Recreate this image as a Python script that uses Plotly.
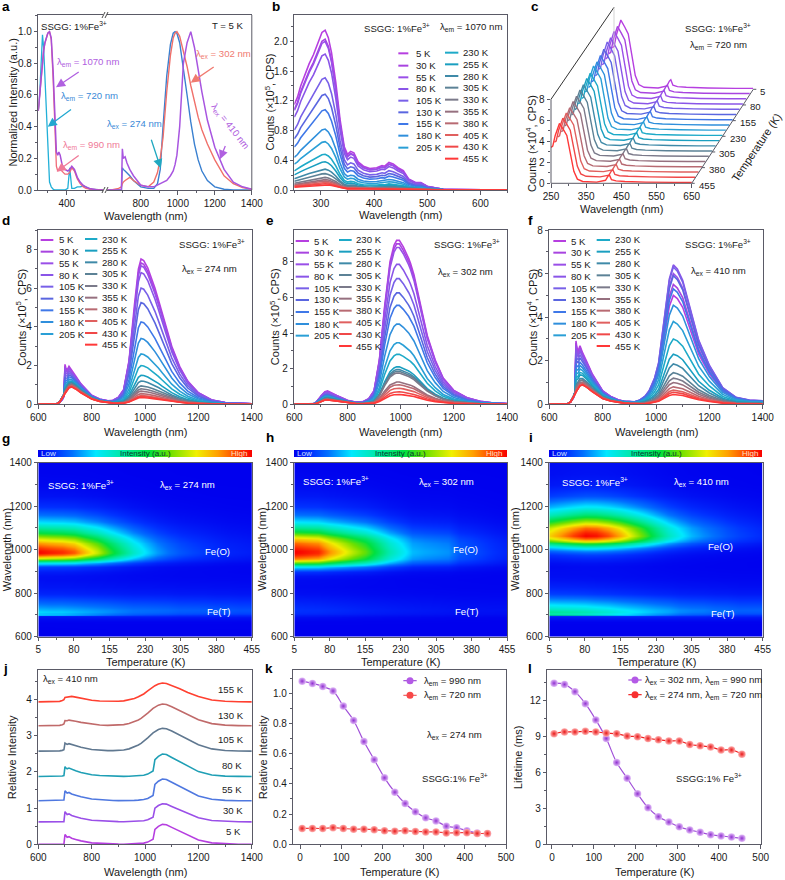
import plotly.graph_objects as go

W, H = 785, 880
FONT = "Liberation Sans"
INK = "#1a1a1a"
AXC = "#5a5a66"

temps = [5,30,55,80,105,130,155,180,205,230,255,280,305,330,355,380,405,430,455]
colors = ["#b63fe0","#a844e0","#9a4fe8","#8a55e8","#7860e8","#5a66e0","#3f78e8","#2f8fdc","#2a9fd6",
          "#1eaac8","#1a9fc0","#3f8aa8","#5c8296","#7b7a8a","#96707f","#b86a72","#e0605f","#f04848","#ff3838"]

# ---- panel a ----
a_ex_wl = [250,258,265,272,278,285,292,300,309,318,328,338,345,352,358,365,375,390,405,415,426,440,455,470,485,500,520,560,590]
a_ex_1070 = [.5,.6,.72,.82,.88,.93,.96,.99,1,.96,.75,.4,.24,.22,.24,.22,.16,.13,.12,.13,.15,.13,.08,.05,.03,.02,.01,0,0]
a_ex_990 = [.5,.6,.72,.82,.88,.93,.96,.99,1,.95,.7,.3,.15,.12,.13,.13,.12,.1,.1,.11,.14,.12,.07,.04,.02,.01,.005,0,0]
a_ex_720 = [.5,.62,.8,.98,.9,.7,.45,.2,.05,.02,.005,0,0,0,0,0,0,0,.01,.14,.01,.01,.02,.02,.025,.02,.005,0,0]
a_em_wl = [620,640,680,695,700,705,715,725,740,760,800,840,870,890,905,920,940,960,975,985,995,1010,1030,1050,1070,1090,1110,1130,1160,1200,1250,1300,1350,1400]
a_em_274 = [0,0,0,0,.14,.13,.12,.11,.09,.06,.02,.01,.01,.04,.13,.4,.72,.92,.99,1,.99,.93,.78,.6,.43,.29,.19,.12,.06,.02,.005,0,0,0]
a_em_302 = [0,0,.01,.02,.04,.05,.06,.07,.08,.06,.03,.02,.05,.11,.2,.33,.62,.85,.96,.99,1,.97,.88,.78,.66,.55,.46,.38,.29,.19,.09,.04,.015,.005]
a_em_410 = [0,0,0,0,.26,.2,.21,.17,.13,.09,.03,.02,.02,.03,.04,.05,.06,.09,.12,.16,.22,.4,.8,.93,1,.9,.76,.62,.44,.27,.13,.05,.02,.005]

# ---- panel b ----
b_wl = [250,256,262,270,278,286,294,302,308,314,320,328,336,344,350,356,362,370,380,392,405,415,420,428,436,445,455,465,478,488,500,515,530,560,600,650]
b_shape = [1.15,1.25,1.4,1.55,1.7,1.82,1.98,2.12,2.15,2.05,1.85,1.45,.95,.58,.48,.52,.5,.38,.32,.29,.3,.33,.32,.37,.35,.3,.26,.15,.1,.1,.05,.03,.01,.005,0,0]
b_peak = [2.15,2.03,2.0,1.83,1.51,1.29,1.08,.82,.65,.48,.38,.28,.22,.17,.14,.12,.10,.085,.07]

# ---- panel c ----
c_wl = [250,255,262,274,285,295,305,315,325,340,380,405,412,416,422,435,460,490,520,600,650]
c_shape = [.6,.62,.8,1,.9,.8,.5,.2,.07,.03,.02,.05,.12,.14,.06,.04,.03,.03,.02,.015,.015]
c_peak = [6.6,6.5,6.5,6.4,6.5,6.3,6.2,6.1,6.2,6.0,6.0,5.9,5.9,5.8,5.8,5.7,5.7,5.7,5.7]
depth_ticks = [5,80,155,230,305,380,455]

# ---- emission spectra d, e, f, g, h, i, j ----
wl_em = [600,650,670,680,690,696,700,703,708,715,725,740,760,800,830,860,880,900,920,940,960,975,985,995,1010,1030,1037,1050,1065,1080,1100,1130,1160,1200,1250,1300,1350,1400]
t_cold = [0,0,0,0,0,.02,1,.85,.72,.78,.62,.5,.35,.15,.09,.05,.03,.02,0,0]+[0]*18
t_hot = [0,.01,.03,.12,.32,.5,.62,.7,.82,.95,1,.88,.66,.3,.17,.09,.06,.04,.02,.01]+[0]*18
o_274 = [0]*15+[.005,.015,.04,.1,.3,.68,.93,1,.99,.94,.84,.80,.72,.62,.52,.4,.26,.16,.08,.03,.012,.006,.004]
o_302 = [0]*15+[.01,.03,.08,.27,.6,.87,.97,1,1,.96,.89,.86,.79,.68,.56,.42,.27,.16,.085,.04,.018,.008,.004]
o_410 = [0]*16+[.003,.008,.015,.03,.06,.1,.14,.19,.3,.6,.72,.9,1,.97,.89,.68,.46,.28,.12,.05,.03,.025]
o_j_cold = [0]*18+[.005,.01,.02,.03,.04,.06,.11,.25,.75,.9,1,.98,.85,.65,.45,.22,.07,.02,.005,0]
o_j_warm = [0]*16+[.01,.02,.05,.1,.18,.27,.34,.42,.58,.8,.86,.95,1,.98,.88,.7,.5,.28,.1,.03,.01,0]

d_peak = [7.5,7.3,7.15,6.8,6.0,5.25,4.25,3.4,2.6,2.0,1.5,1.2,.95,.8,.68,.55,.45,.4,.35]
d_cold = [1.6,1.5,1.4,1.2,1.0,.8,.6,.45,.32,.2,.15,.1,.06,.04,.02,0,0,0,0]
d_hot = [.75,.75,.8,.85,.9,.95,1,1,1,1.05,1.05,1.05,1,1,1,.95,.95,.9,.9]
e_peak = [9.2,9.0,8.8,7.85,7.05,6.25,5.55,4.5,3.45,2.8,2.1,1.95,1.85,1.75,1.25,1.1,.9,.7,.55]
e_cold = [0]*19
e_hot = [.75,.72,.7,.65,.6,.55,.5,.47,.43,.4,.38,.35,.33,.3,.28,.27,.26,.25,.25]
f_peak = [5.0,5.5,6.0,6.4,6.3,5.9,5.3,4.55,3.8,3.0,2.3,1.85,1.45,1.2,1.0,.8,.65,.55,.45]
f_cold = [2.35,2.25,2.1,1.9,1.7,1.45,1.2,1.0,.8,.6,.45,.3,.2,.15,.1,.05,0,0,0]
f_hot = [.9,.9,.95,1,1,1.05,1.05,1.05,1.05,1.05,1.05,1,1,1,.95,.95,.9,.9,.9]

j_temps = ["5 K","30 K","55 K","80 K","105 K","130 K","155 K"]
j_colors = ["#b63fe0","#9a4fe8","#4f78e0","#1f9fb5","#607890","#c06a6a","#ff4030"]
j_base = [0,.62,1.2,1.87,2.57,3.27,3.93]
j_ocold = [.55,.5,.6,.62,0,0,0]
j_owarm = [0,0,0,0,.63,.6,.52]
j_tcold = [.27,.28,.26,.25,.18,.08,.05]
j_thot = [0,0,.03,.04,.07,.1,.12]

# ---- panels k, l ----
k_990 = [1.08,1.065,1.045,1.015,.915,.82,.68,.56,.44,.345,.27,.215,.175,.155,.12,.11,.09,.075,.07]
k_720 = [.105,.105,.105,.11,.105,.1,.1,.097,.09,.087,.09,.085,.082,.082,.075,.077,.077,.072,.072]
l_990 = [13.4,13.3,12.7,11.7,10.35,8.8,6.8,5.5,4.2,3.05,2.3,1.85,1.45,1.2,1.0,.8,.7,.6,.5]
l_720 = [9.2,9.35,9.35,9.4,9.35,9.25,9.2,9.0,8.95,8.8,8.7,8.6,8.6,8.3,8.2,8.1,7.85,7.85,7.5]

jet = [[0,"#0000ee"],[.08,"#0030ff"],[.16,"#0070ff"],[.27,"#00e8ff"],[.4,"#00e8a0"],[.52,"#00e040"],
       [.62,"#70e000"],[.74,"#f0f000"],[.84,"#ffa000"],[.93,"#ff4000"],[1,"#f80000"]]

fig = go.Figure()
annos, shapes = [], []
lay = {}
TXT = 9.6
TICK = 10
TITLE = 11
TITLE_Y = {2: 215, 4: 431.7, 5: 431.7, 6: 431.7, 7: 661.5, 8: 661.5, 9: 661.5, 10: 871.7, 11: 871.7, 12: 871.7}

def fx(p): return p / W
def fy(p): return 1 - p / H

def text(x, y, s, size=TXT, color=INK, anchor="center", angle=0, bold=False):
    annos.append(dict(x=fx(x), y=fy(y), xref="paper", yref="paper", text=f"<b>{s}</b>" if bold else s,
                      showarrow=False, xanchor=anchor, yanchor="middle", textangle=angle,
                      font=dict(family=FONT, size=size, color=color)))

def seg(x0, y0, x1, y1, color=AXC, width=1):
    shapes.append(dict(type="line", xref="paper", yref="paper", x0=fx(x0), y0=fy(y0), x1=fx(x1), y1=fy(y1),
                       line=dict(color=color, width=width), layer="above"))

def arrow(x0, y0, x1, y1, color):
    annos.append(dict(x=fx(x1), y=fy(y1), xref="paper", yref="paper", ax=x0-x1, ay=y0-y1, axref="pixel", ayref="pixel",
                      text=" ", showarrow=True, arrowhead=2, arrowsize=1.4, arrowwidth=1.3, arrowcolor=color))

def xaxis(n, x0, x1, rng, title, dtick, minor, tick0=None, mirror=True):
    d = dict(domain=[fx(x0), fx(x1)], range=rng, anchor=f"y{n}", showgrid=False, zeroline=False, showline=True,
             linecolor=AXC, linewidth=1, mirror=mirror, ticks="outside", ticklen=3.5, tickcolor=AXC, tickwidth=1,
             tickfont=dict(family=FONT, size=TICK, color=INK), dtick=dtick,
             minor=dict(ticks="outside", ticklen=2, tickcolor=AXC, dtick=minor, showgrid=False))
    if tick0 is not None:
        d["tick0"] = tick0
        d["minor"]["tick0"] = tick0
    if title:
        text((x0 + x1) / 2, TITLE_Y[n], title, size=TITLE)
    lay[f"xaxis{n}"] = d

def yaxis(n, y0, y1, rng, title, title_x, dtick, minor, fmt=None, mirror=True):
    d = dict(domain=[fy(y1), fy(y0)], range=rng, anchor=f"x{n}", showgrid=False, zeroline=False, showline=True,
             linecolor=AXC, linewidth=1, mirror=mirror, ticks="outside", ticklen=3.5, tickcolor=AXC, tickwidth=1,
             tickfont=dict(family=FONT, size=TICK, color=INK), dtick=dtick,
             minor=dict(ticks="outside", ticklen=2, tickcolor=AXC, dtick=minor, showgrid=False))
    if fmt: d["tickformat"] = fmt
    lay[f"yaxis{n}"] = d
    text(title_x, (y0 + y1) / 2, title, size=TITLE, angle=-90)

def line(x, y, n, color, width=1.6, xa=None):
    fig.add_trace(go.Scatter(x=x, y=y, mode="lines", line=dict(color=color, width=width),
                             xaxis=xa or f"x{n}", yaxis=f"y{n}", showlegend=False))

def legend19(ox, oy, c1, c2, ys1, ys2):
    for i in range(9):
        y = oy + ys1[i] / 3
        seg(ox + c1[0]/3, y, ox + c1[1]/3, y, colors[i], 2)
        text(ox + c1[2]/3, y, f"{temps[i]} K", anchor="left")
    for i in range(10):
        y = oy + ys2[i] / 3
        seg(ox + c2[0]/3, y, ox + c2[1]/3, y, colors[i+9], 2)
        text(ox + c2[2]/3, y, f"{temps[i+9]} K", anchor="left")

FE = "SSGG: 1%Fe<sup>3+</sup>"

# ===== a =====
xaxis(1, 38.3, 103, [250, 590], None, 200, 100, tick0=0)
xaxis(13, 107, 251.8, [617, 1400], None, 200, 100, tick0=0)
lay["xaxis13"]["anchor"] = "y1"
yaxis(1, 15, 190, [0, 1.105], "Normalized Intensity (a.u.)", 13, .2, .1, ".1f", mirror=False)
line(a_ex_wl, a_ex_720, 1, "#22b0d8", 1.3)
line(a_ex_wl, a_ex_990, 1, "#f06a78", 1.3)
line(a_ex_wl, a_ex_1070, 1, "#a84fd8", 1.5)
line(a_em_wl, a_em_274, 1, "#3a80d0", 1.4, xa="x13")
line(a_em_wl, a_em_302, 1, "#f0706a", 1.4, xa="x13")
line(a_em_wl, a_em_410, 1, "#a855e0", 1.5, xa="x13")
seg(251.8, 15, 251.8, 190)
for yy in (15, 190):
    seg(102, yy+3, 105, yy-3, INK, .8); seg(105, yy+3, 108, yy-3, INK, .8)
text(145, 215.5, "Wavelength (nm)", size=TITLE)
text(74, 26, FE)
text(228, 25, "T = 5 K")
PUR, BLU, PNK, SAL = "#b060e0", "#3a8ad8", "#f07a98", "#f07a70"
text(88, 62, "λ<sub>em</sub> = 1070 nm", color=PUR)
arrow(81.7, 70, 56, 87.3, PUR)
text(89, 96, "λ<sub>em</sub> = 720 nm", color=BLU)
arrow(74, 107.3, 47.7, 126.7, "#22a8d0")
text(91, 145, "λ<sub>em</sub> = 990 nm", color=PNK)
arrow(81.7, 153.3, 56.7, 171.7, PNK)
text(134, 124, "λ<sub>ex</sub> = 274 nm", color=BLU)
arrow(148.3, 130.7, 160.7, 168.3, "#20a8c0")
text(223, 54, "λ<sub>ex</sub> = 302 nm", color=SAL)
arrow(216.7, 65, 190.7, 82.7, SAL)
text(230, 126, "λ<sub>ex</sub> = 410 nm", color=PUR, angle=52)
arrow(228.3, 138.3, 220, 159.3, PUR)

# ===== b =====
xaxis(2, 294.3, 507, [250, 650], "Wavelength (nm)", 100, 50)
yaxis(2, 15, 190, [0, 2.355], "Counts (×10<sup>5</sup>, CPS)", 270, .4, .2, ".1f")
bmax = max(b_shape)
for i in range(19):
    line(b_wl, [v / bmax * b_peak[i] for v in b_shape], 2, colors[i])
text(260+412/3, 28, FE)
text(260+632/3, 27, "λ<sub>em</sub> = 1070 nm")
legend19(260, 0, (415, 445, 462), (555, 595, 603),
         [160,197,232,267,302,337,372,407,443], [158,193,228,263,299,335,370,405,440,476])

# ===== c =====  (axes span the whole waterfall box; only the front ticks are labelled)
C_X0, C_X1, C_Y0, C_Y1 = 551, 760, 7, 183.3
PX_NM, PX_CNT = 140.7 / 400, 10.5
c_ticks_x = [250,350,450,550,650]
c_ticks_y = [0,2,4,6,8]
xaxis(3, C_X0, C_X1, [250, 250 + (C_X1 - C_X0) / PX_NM], None, 100, 50, mirror=False)
yaxis(3, C_Y0, C_Y1, [0, (C_Y1 - C_Y0) / PX_CNT], "Counts (×10<sup>4</sup>, CPS)", 531, 2, 1, mirror=False)
annos[-1]["y"] = fy(144)
for ax_, tv, mv in ((lay["xaxis3"], c_ticks_x, [300,400,500,600]), (lay["yaxis3"], c_ticks_y, [1,3,5,7])):
    ax_.pop("dtick"); ax_["showline"] = False
    ax_["tickmode"] = "array"; ax_["tickvals"] = tv
    ax_["minor"] = dict(ticks="outside", ticklen=2, tickcolor=AXC, tickmode="array", tickvals=mv, showgrid=False)
seg(551, 183.3, 691.7, 183.3)
seg(551, 99.3, 551, 183.3)
text(621.7, 209, "Wavelength (nm)", size=TITLE)
dx_nm, dy_cnt = 9.7, .497
for i in range(19):
    back = 18 - i
    line([v + back * dx_nm for v in c_wl], [v * c_peak[i] + back * dy_cnt for v in c_shape], 3, colors[i], 1.4)
seg(551, 99.3, 614, 7.3, "#333")
seg(614, 7.3, 614, 90, "#c8c8c8", .8)
seg(691.7, 183.3, 753.3, 89.3)
for t in depth_ticks:
    frac = (455 - t) / 450
    px = 691.7 + (753.3 - 691.7) * frac
    py = 183.3 - (183.3 - 89.3) * frac
    seg(px, py, px + 3, py)
    text(px + 5, py + 2, str(t), anchor="left", size=TXT)
text(520+595/3, 28, FE)
text(520+595/3, 45, "λ<sub>em</sub> = 720 nm")
text(756, 148, "Temperature (K)", size=TITLE, angle=-56)

# ===== d, e, f =====
def spectra(n, x0, x1, ymax, title, tx, o, peak, cold, hot, dtick):
    xaxis(n, x0, x1, [600, 1400], "Wavelength (nm)", 200, 100)
    yaxis(n, 230, 404.3, [0, ymax], title, tx, dtick, dtick / 2)
    for i in range(19):
        y = [peak[i]*a + cold[i]*b + hot[i]*c for a, b, c in zip(o, t_cold, t_hot)]
        line(wl_em, y, n, colors[i])

spectra(4, 38.3, 251.8, 9, "Counts (×10<sup>5</sup>, CPS)", 21.5, o_274, d_peak, d_cold, d_hot, 2)
text(637/3, 220+24, FE); text(627/3, 220+49, "λ<sub>ex</sub> = 274 nm")
legend19(0, 220, (122, 160, 170), (255, 292, 300),
         [60,95,130,165,200,236,271,306,342], [57,92,127,162,198,233,268,303,339,374])
spectra(5, 294.3, 507, 9.78, "Counts (×10<sup>5</sup>, CPS)", 275, o_302, e_peak, e_cold, e_hot, 2)
text(260+622/3, 220+24, FE); text(260+615/3, 220+52, "λ<sub>ex</sub> = 302 nm")
legend19(260, 220, (107, 147, 155), (237, 275, 283),
         [63,98,133,170,205,240,276,312,347], [60,95,130,165,201,236,272,307,342,378])
spectra(6, 549.3, 762.7, 8, "Counts (×10<sup>4</sup>, CPS)", 532.5, o_410, f_peak, f_cold, f_hot, 2)
text(520+595/3, 220+24, FE); text(520+595/3, 220+51, "λ<sub>ex</sub> = 410 nm")
legend19(520, 220, (100, 138, 147), (230, 270, 278),
         [63,98,134,170,205,240,276,311,346], [60,95,130,166,202,237,272,308,343,378])

# ===== g, h, i =====
def heat(n, x0, x1, tx, o, peak, cold, hot):
    xaxis(n, x0, x1, [5, 455], "Temperature (K)", 75, 37.5, tick0=5)
    yaxis(n, 462.7, 636.7, [600, 1400], "Wavelength (nm)", tx, 200, 100)
    z = [[peak[i]*o[r] + cold[i]*t_cold[r] + hot[i]*t_hot[r] for i in range(19)] for r in range(len(wl_em))]
    fig.add_trace(go.Heatmap(x=temps, y=wl_em, z=z, zmin=0, zmax=max(peak), zsmooth="best", colorscale=jet,
                             xaxis=f"x{n}", yaxis=f"y{n}", hoverinfo="skip",
                             colorbar=dict(orientation="h", x=fx(x0), xanchor="left", y=fy(457.3), yanchor="bottom",
                                           len=x1-x0, lenmode="pixels", thickness=7, thicknessmode="pixels",
                                           outlinewidth=0, showticklabels=False, ticks="", xpad=0, ypad=0)))
    text(x0 + 1, 453.7, "Low", size=8, color="#cfe0ff", anchor="left")
    text((x0 + x1) / 2, 453.7, "Intensity (a.u.)", size=8, color="#0a3a30")
    text(x1 - 13, 453.7, "High", size=8, color="#ffe0c0")

heat(7, 38.3, 251.8, 6.5, o_274, d_peak, d_cold, d_hot)
text(81, 485, FE, color="white"); text(187.3, 485, "λ<sub>ex</sub> = 274 nm", color="white")
text(217.7, 551.7, "Fe(O)", color="white"); text(218.3, 611.3, "Fe(T)", color="white")
heat(8, 294.3, 507, 262, o_302, e_peak, e_cold, e_hot)
text(260+227/3, 481, FE, color="white"); text(260+558/3, 481.7, "λ<sub>ex</sub> = 302 nm", color="white")
text(260+615/3, 549.7, "Fe(O)", color="white"); text(260+618/3, 611.7, "Fe(T)", color="white")
heat(9, 549.3, 762.7, 515, o_410, f_peak, f_cold, f_hot)
text(260+1005/3, 482.3, FE, color="white"); text(260+1325/3, 482.3, "λ<sub>ex</sub> = 410 nm", color="white")
text(260+1382/3, 546, "Fe(O)", color="white"); text(260+1386/3, 613, "Fe(T)", color="white")

# ===== j =====
xaxis(10, 38.3, 251.8, [600, 1400], "Wavelength (nm)", 200, 100)
yaxis(10, 670, 844.3, [0, 4.81], "Relative Intensity", 12, 1, .5)
for i in range(7):
    y = [j_base[i] + j_ocold[i]*a + j_owarm[i]*b + j_tcold[i]*c + j_thot[i]*e
         for a, b, c, e in zip(o_j_cold, o_j_warm, t_cold, t_hot)]
    line(wl_em, y, 10, j_colors[i])
for lab, px_, py_ in zip(j_temps, [700,698,697,696,692,693,692], [513,451,389,315,238,165,88]):
    text(px_/3, 660 + py_/3, lab)
text(70, 679, "λ<sub>ex</sub> = 410 nm")

# ===== k, l =====
PURM = dict(size=7.5, color="#e2bdf8", gradient=dict(type="radial", color="#9030d0"), line=dict(width=0))
REDM = dict(size=7.5, color="#ffb0b0", gradient=dict(type="radial", color="#e81818"), line=dict(width=0))
def lifetime(n, y, marker, color):
    fig.add_trace(go.Scatter(x=temps, y=y, mode="lines+markers", line=dict(color=color, width=1.2, shape="spline"),
                             marker=marker, xaxis=f"x{n}", yaxis=f"y{n}", showlegend=False, cliponaxis=False))

xaxis(11, 293.3, 506, [-16.5, 500], "Temperature (K)", 100, 50, tick0=0)
yaxis(11, 670, 844.3, [0, 1.154], "Relative Intensity", 263, .2, .1, ".1f")
lifetime(11, k_990, PURM, "#a050d8"); lifetime(11, k_720, REDM, "#f04040")
xaxis(12, 547.3, 760.7, [-11.2, 500], "Temperature (K)", 100, 50, tick0=0)
yaxis(12, 670, 844.3, [0, 14.5], "Lifetime (ms)", 518, 3, 1.5)
lifetime(12, l_990, PURM, "#a050d8"); lifetime(12, l_720, REDM, "#f02020")

def legmark(x0, x1, y, color, fill):
    seg(x0, y, x1, y, color, 1.2)
    mx = (x0 + x1) / 2
    shapes.append(dict(type="circle", xref="paper", yref="paper", x0=fx(mx-3.5), x1=fx(mx+3.5), y0=fy(y-3.5), y1=fy(y+3.5),
                       fillcolor=fill, line=dict(width=0), layer="above"))
legmark(260+430/3, 260+470/3, 660+62/3, "#a050d8", "#b45ae6")
legmark(260+430/3, 260+470/3, 660+106/3, "#f06060", "#f84848")
text(260+487/3, 660+62/3, "λ<sub>em</sub> = 990 nm", anchor="left")
text(260+487/3, 660+106/3, "λ<sub>em</sub> = 720 nm", anchor="left")
text(260+583/3, 660+226/3, "λ<sub>ex</sub> = 274 nm")
text(260+585/3, 660+355/3, "SSGG:1% Fe<sup>3+</sup>")
legmark(260+1105/3, 260+1145/3, 660+60/3, "#a050d8", "#b45ae6")
legmark(260+1105/3, 260+1145/3, 660+104/3, "#f02020", "#f83030")
text(260+1150/3, 660+60/3, "λ<sub>ex</sub> = 302 nm, λ<sub>em</sub> = 990 nm", anchor="left")
text(260+1150/3, 660+104/3, "λ<sub>ex</sub> = 274 nm, λ<sub>em</sub> = 720 nm", anchor="left")
text(260+1347/3, 660+353/3, "SSGG:1% Fe<sup>3+</sup>")

# ===== panel letters =====
for s, x, y in [("a",6,7),("b",276,7),("c",535,7),("d",6,220),("e",270,220),("f",530,220),
                ("g",6,438),("h",270,437),("i",531,437),("j",5,668),("k",269,668),("l",530,668)]:
    text(x, y, s, size=13.5, color="#000", bold=True)

fig.update_layout(width=W, height=H, margin=dict(l=0, r=0, t=0, b=0, autoexpand=False),
                  paper_bgcolor="white", plot_bgcolor="white",
                  annotations=annos, shapes=shapes, showlegend=False, **lay)
fig.write_html("out.html", config={"displayModeBar": False}, post_script="document.body.style.margin='0';")
